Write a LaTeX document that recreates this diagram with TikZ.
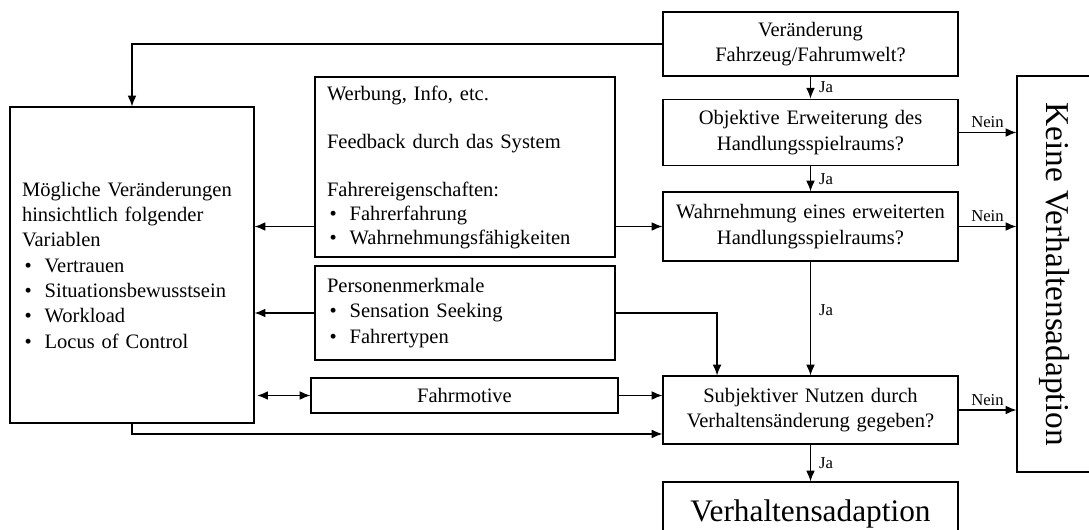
\documentclass[tikz,border=0pt]{standalone}
\usepackage{fontspec}
\setmainfont{Liberation Serif}
\usetikzlibrary{positioning,arrows,arrows.meta}

\newcommand{\pkt}{\makebox[17pt][l]{\hspace{2pt}\textbullet}}

\begin{document}
\begin{tikzpicture}[x=0.75pt,y=-0.75pt,line width=0.9pt,
  >={Latex[length=8pt,width=6.5pt]},
  kasten/.style={draw, inner sep=0pt, inner xsep=9pt, font=\fontsize{15.4}{19}\selectfont},
  frage/.style={kasten, align=center, text width=203pt, minimum width=221.25pt},
  jn/.style={font=\fontsize{12.5}{14}\selectfont, inner sep=3pt}]

\useasboundingbox (0,0) rectangle (1089,529);

% linke Spalte
\node (links) at (132,265) [kasten, align=left, text width=165pt, minimum height=237pt]
  {M\"ogliche Ver\"anderungen\\ hinsichtlich folgender\\ Variablen\\ \pkt Vertrauen\\ \pkt Situationsbewusstsein\\ \pkt Workload\\ \pkt Locus of Control};

% mittlere Spalte
\node (werbung) at (465,167) [kasten, align=left, text width=207pt, minimum height=135pt, font=\fontsize{15.4}{18}\selectfont]
  {Werbung, Info, etc.\\[18pt] Feedback durch das System\\[18pt] Fahrereigenschaften:\\ \pkt Fahrerfahrung\\ \pkt Wahrnehmungsf\"ahigkeiten};
\node (pers) at (465,313) [kasten, align=left, text width=207pt, minimum height=70.5pt]
  {Personenmerkmale\\ \pkt Sensation Seeking\\ \pkt Fahrertypen};
\node (motive) at (464.5,395.5) [kasten, minimum width=230.25pt, minimum height=26.25pt] {Fahrmotive};

% rechte Spalte
\node (veraend) at (810.5,44) [frage, minimum height=48pt] {Ver\"anderung\\ Fahrzeug/Fahrumwelt?};
\node (objektiv) at (810.5,132.5) [frage, minimum height=50pt] {Objektive Erweiterung des\\ Handlungsspielraums?};
\node (wahrn) at (810.5,226.5) [frage, minimum height=51.75pt] {Wahrnehmung eines erweiterten\\ Handlungsspielraums?};
\node (subj) at (810.5,410) [frage, minimum height=51pt] {Subjektiver Nutzen durch\\ Verhaltens\"anderung gegeben?};
\node (adapt) at (810.5,514) [frage, minimum height=48pt, font=\fontsize{23.5}{28}\selectfont] {Verhaltensadaption};

% gedreht: keine.south ist die linke Kante
\node (keine) at (1055,274) [kasten, rotate=-90, minimum width=297pt, minimum height=57pt, font=\fontsize{25}{30}\selectfont] {Keine Verhaltensadaption};

% Ja-Pfeile
\draw [->] (veraend) -- (objektiv) node[jn, midway, right, xshift=3pt]{Ja};
\draw [->] (objektiv) -- (wahrn) node[jn, midway, right, xshift=3pt]{Ja};
\draw [->] (wahrn) -- (subj) node[jn, pos=0.43, right, xshift=3pt]{Ja};
\draw [->] (subj) -- (adapt) node[jn, midway, right, xshift=3pt]{Ja};

% Nein-Pfeile
\draw [->] (objektiv.east) -- (objektiv.east -| keine.south) node[jn, midway, above]{Nein};
\draw [->] (wahrn.east) -- (wahrn.east -| keine.south) node[jn, midway, above]{Nein};
\draw [->] (subj.east) -- (subj.east -| keine.south) node[jn, midway, above]{Nein};

% Einfluesse
\draw [->] (veraend.west) -| (links.north);
\draw [->] (wahrn.west -| werbung.east) -- (wahrn.west);
\draw [->] (wahrn.west -| werbung.west) -- (wahrn.west -| links.east);
\draw [->] (pers.west) -- (pers.west -| links.east);
\draw [->] (pers.east) -| ([xshift=41pt]subj.north west);
\draw [<->] (motive.west) -- ([xshift=2pt]motive.west -| links.east);
\draw [->] (motive.east) -- (motive.east -| subj.west);
\draw [->] (links.south) |- ([yshift=8pt]subj.south west);

\end{tikzpicture}
\end{document}
